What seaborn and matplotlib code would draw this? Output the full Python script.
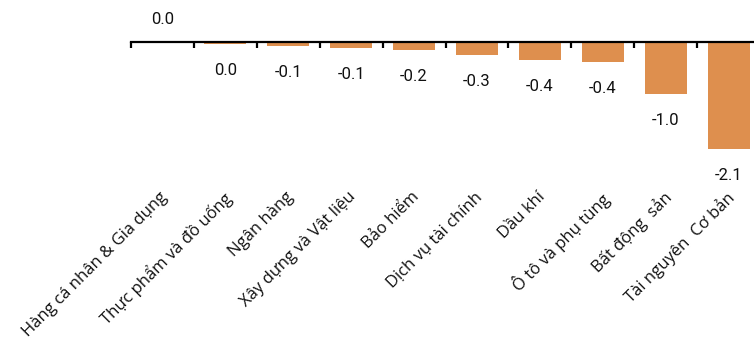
import matplotlib
matplotlib.use("Agg")
import matplotlib.pyplot as plt
import matplotlib.transforms as mtransforms
from matplotlib.ticker import FixedLocator
import seaborn as sns

# Sector performance (%)
categories = [
    "Hàng cá nhân & Gia dụng",
    "Thực phẩm và đồ uống",
    "Ngân hàng",
    "Xây dựng và Vật liệu",
    "Bảo hiểm",
    "Dịch vụ tài chính",
    "Dầu khí",
    "Ô tô và phụ tùng",
    "Bất động  sản",
    "Tài nguyên  Cơ bản",
]
values = [0.0, -0.04, -0.08, -0.12, -0.16, -0.26, -0.36, -0.40, -1.02, -2.10]

BAR_COLOR = "#DE8F4E"

sns.set_theme(style="white")
plt.rcParams["font.family"] = ["Roboto", "DejaVu Sans"]

W, H, DPI = 754, 339, 100
fig = plt.figure(figsize=(W / DPI, H / DPI), dpi=DPI)
left_px = 131
ax = fig.add_axes([left_px / W, 0, 1 - left_px / W, 1])

sns.barplot(x=categories, y=values, color=BAR_COLOR, width=0.667,
            saturation=1, ax=ax, edgecolor="none")

# vertical scale: zero line 41.5 px from top, 51.4 px per unit
px_per_unit = 51.4
zero_px = 41.5
ax.set_ylim(-(H - zero_px) / px_per_unit, zero_px / px_per_unit)
step = 62.9
ax.set_xlim(-0.5, -0.5 + (W - left_px) / step)

for s in ["top", "right", "left"]:
    ax.spines[s].set_visible(False)
ax.spines["bottom"].set_position(("data", 0))
ax.spines["bottom"].set_color("black")
ax.spines["bottom"].set_linewidth(1.6)
ax.set_yticks([])
ax.set_ylabel("")
ax.set_xlabel("")

# boundary tick marks between categories
ax.xaxis.set_minor_locator(FixedLocator([i - 0.5 for i in range(len(categories) + 1)]))
ax.tick_params(axis="x", which="minor", bottom=True, length=4.5, width=1.6,
               color="black", direction="out")
ax.tick_params(axis="x", which="major", bottom=True, length=0, pad=106,
               labelcolor="#111111")
ax.set_xticks(range(len(categories)))
ax.set_xticklabels(categories, rotation=45, ha="right", rotation_mode="anchor",
                   fontsize=12, family=["Open Sans", "DejaVu Sans"])
shift = mtransforms.ScaledTranslation(-3 / DPI, 0, fig.dpi_scale_trans)
for lab in ax.get_xticklabels():
    lab.set_transform(lab.get_transform() + shift)

for i, v in enumerate(values):
    txt = f"{v:.1f}"
    if txt == "-0.0":
        txt = "0.0"
    off = 12.5 if v >= 0 else -22.3
    ax.annotate(txt, (i, v), xytext=(0, off), textcoords="offset points",
                ha="center", va="baseline", fontsize=12, color="#111111")

fig.savefig("out.png", dpi=DPI)
